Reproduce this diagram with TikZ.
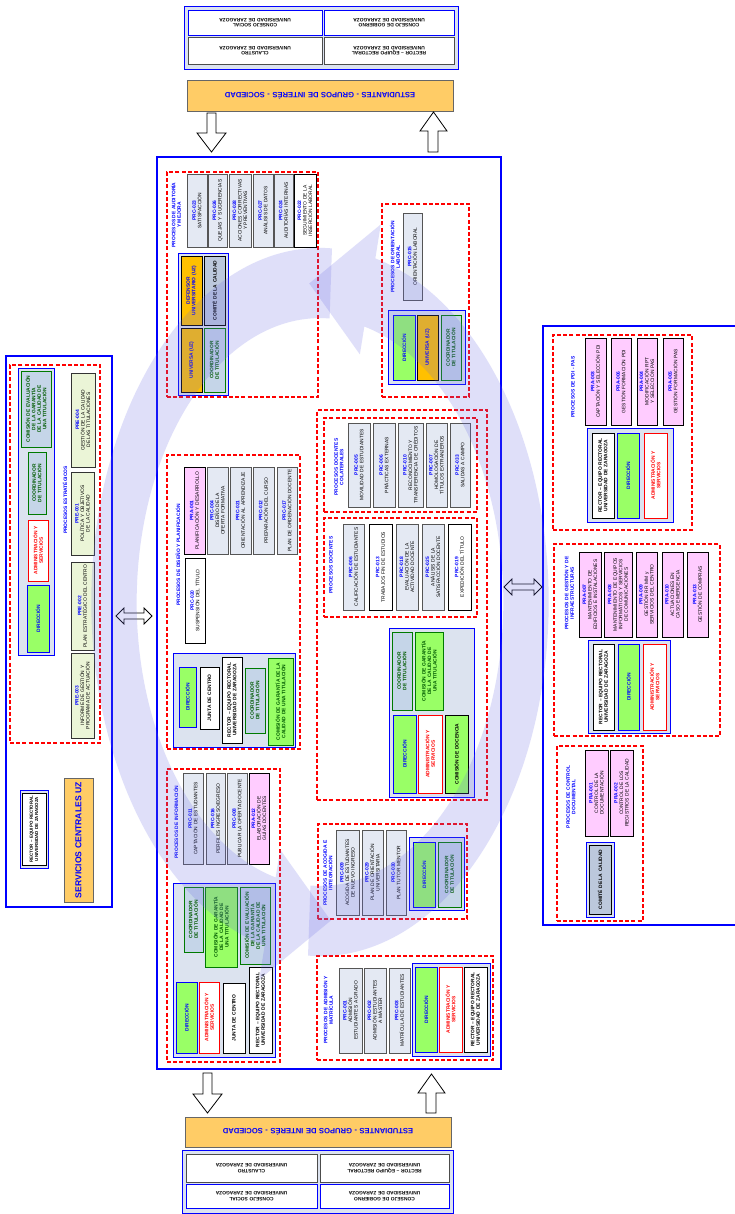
\documentclass[tikz,border=0pt]{standalone}
\usepackage{fontspec}
\setmainfont{Liberation Sans}
\usetikzlibrary{calc}
\hyphenpenalty=10000 \exhyphenpenalty=10000
\definecolor{grpfill}{HTML}{DCE3EF}
\definecolor{procfill}{HTML}{E4E9F3}
\definecolor{procdraw}{HTML}{555555}
\definecolor{pinkfill}{HTML}{FFCCFF}
\definecolor{dirfill}{HTML}{99FF66}
\definecolor{coordfill}{HTML}{C5D5E8}
\definecolor{dkgreen}{HTML}{007A00}
\definecolor{txgreen}{HTML}{005A00}
\definecolor{orgfill}{HTML}{FFC000}
\definecolor{barfill}{HTML}{FFCC66}
\definecolor{comitefill}{HTML}{BCC8DC}
\definecolor{prefill}{HTML}{EBF5D7}
\definecolor{codeblue}{HTML}{0000FF}
\definecolor{ringcol}{HTML}{6C6CE6}
\newcommand\fsz{\fontsize{4.9}{5.5}\selectfont}
\newcommand\fszb{\fontsize{4.9}{5.5}\selectfont\bfseries}
\tikzset{
  bxbase/.style={inner sep=0pt, align=center, font=\fsz},
  proc/.style={bxbase, draw=procdraw, fill=procfill, line width=0.8pt},
  procw/.style={bxbase, draw=black, fill=white, line width=0.8pt},
  pinkbox/.style={bxbase, draw=black, fill=pinkfill, line width=0.8pt},
  prebox/.style={bxbase, draw=black!80, fill=prefill, line width=0.8pt},
  dirbox/.style={bxbase, draw=blue, fill=dirfill, line width=1pt, text=blue, font=\fszb},
  admbox/.style={bxbase, draw=red, fill=white, line width=1pt, text=red, font=\fszb},
  coordbox/.style={bxbase, draw=dkgreen, fill=coordfill, line width=1pt, text=txgreen, font=\fszb},
  comgbox/.style={bxbase, draw=dkgreen, fill=dirfill, line width=1pt, text=txgreen, font=\fszb},
  comebox/.style={bxbase, draw=dkgreen, fill=coordfill, line width=1pt, text=txgreen, font=\fszb},
  orgbox/.style={bxbase, draw=black, fill=orgfill, line width=0.8pt, text=blue, font=\fszb},
  comitebox/.style={bxbase, draw=black, fill=comitefill, line width=0.8pt, font=\fszb},
  wbox/.style={bxbase, draw=black, fill=white, line width=0.8pt, font=\fszb},
  wboxs/.style={bxbase, draw=black, fill=white, line width=0.8pt, font=\fontsize{4.4}{5.2}\selectfont\bfseries},
  docbox/.style={bxbase, draw=black, fill=dirfill, line width=0.8pt, font=\fszb},
  wbb/.style={bxbase, draw=blue, fill=white, line width=0.8pt, font=\fontsize{4.9}{5.6}\selectfont\bfseries},
  wbg/.style={bxbase, draw=black!70, fill=white, line width=0.8pt, font=\fontsize{4.9}{5.6}\selectfont\bfseries},
  barbox/.style={bxbase, draw=black!60, fill=barfill, line width=0.8pt, text=blue, font=\fontsize{7.6}{8.6}\selectfont\bfseries},
  servbox/.style={bxbase, draw=black!60, fill=barfill, line width=0.8pt, text=blue, font=\fontsize{8.6}{9.6}\selectfont\bfseries},
  grp/.style={draw=blue, fill=grpfill, line width=0.8pt, inner sep=0pt},
  panel/.style={draw=blue, line width=1.2pt, inner sep=0pt},
  redbox/.style={draw=red, dash pattern=on 4pt off 2.2pt, line width=1.1pt, inner sep=0pt},
  lbl/.style={inner sep=0pt, align=center, text=blue, font=\fszb},
  blk/.style={draw=black, fill=white, line width=0.8pt},
  ring/.style={fill=ringcol, fill opacity=0.21}
}
% vertical box (text rotated 90)
\newcommand\bx[7]{%
  \pgfmathsetmacro\bxa{#6-#4}\pgfmathsetmacro\bxb{#5-#3}\pgfmathsetmacro\bxt{#6-#4-3}%
  \node[#1, rotate=90, minimum width=\bxa pt, minimum height=\bxb pt, text width=\bxt pt] (#2) at ({(#3+#5)/2},{(#4+#6)/2}) {#7};}
% process box with code
\newcommand\pc[8]{\bx{#1}{#2}{#3}{#4}{#5}{#6}{{\bfseries\color{codeblue}#7}\\#8}}
% upside-down box
\newcommand\bxu[7]{%
  \pgfmathsetmacro\bxa{#5-#3}\pgfmathsetmacro\bxb{#6-#4}\pgfmathsetmacro\bxt{#5-#3-4}%
  \node[#1, rotate=180, minimum width=\bxa pt, minimum height=\bxb pt, text width=\bxt pt] (#2) at ({(#3+#5)/2},{(#4+#6)/2}) {#7};}
% plain rectangle
\newcommand\rg[6]{%
  \pgfmathsetmacro\rga{#5-#3}\pgfmathsetmacro\rgb{#6-#4}%
  \node[#1, minimum width=\rga pt, minimum height=\rgb pt] (#2) at ({(#3+#5)/2},{(#4+#6)/2}) {};}
% rotated label
\newcommand\lb[5]{\node[lbl, rotate=90, text width=#4pt] (#1) at (#2,#3) {#5};}
\newcommand\rect{RECTOR -- EQUIPO RECTORAL UNIVERSIDAD DE ZARAGOZA}
\newcommand\adms{ADMINISTRACIÓN Y\\SERVICIOS}
\newcommand\comg{COMISIÓN DE GARANTÍA DE LA CALIDAD DE UNA TITULACIÓN}
\newcommand\come{COMISIÓN DE EVALUACIÓN DE LA GARANTÍA DE LA CALIDAD DE UNA TITULACIÓN}

\begin{document}
\begin{tikzpicture}[x=1pt,y=-1pt]
\useasboundingbox (0,0) rectangle (734,1214);
\fill[white] (0,0) rectangle (734,1214);

% ---------- top block ----------
\rg{grp}{topgrp}{184}{6}{458}{69}
\bxu{wbb}{tcs}{188}{10}{322}{35}{CONSEJO SOCIAL\\UNIVERSIDAD DE ZARAGOZA}
\bxu{wbb}{tcg}{324}{10}{454}{35}{CONSEJO DE GOBIERNO\\UNIVERSIDAD DE ZARAGOZA}
\bxu{wbg}{tcl}{188}{37}{322}{64}{CLAUSTRO\\UNIVERSIDAD DE ZARAGOZA}
\bxu{wbg}{tre}{324}{37}{454}{64}{RECTOR -- EQUIPO RECTORAL\\UNIVERSIDAD DE ZARAGOZA}
\bxu{barbox}{tbar}{187}{80}{453}{111}{ESTUDIANTES - GRUPOS DE INTERÉS - SOCIEDAD}
\draw[blk] (207,113) -- (216,113) -- (216,133) -- (226,133) -- (211.5,152) -- (197,133) -- (207,133) -- cycle;
\draw[blk] (433.5,112) -- (447,131) -- (438,131) -- (438,152) -- (428,152) -- (428,131) -- (420,131) -- cycle;

% ---------- bottom block ----------
\draw[blk] (203,1073) -- (212,1073) -- (212,1094) -- (222,1094) -- (207.5,1113) -- (193,1094) -- (203,1094) -- cycle;
\draw[blk] (431.5,1074) -- (445,1093) -- (436,1093) -- (436,1113) -- (426,1113) -- (426,1093) -- (418,1093) -- cycle;
\bxu{barbox}{bbar}{185}{1117}{451}{1147}{ESTUDIANTES - GRUPOS DE INTERÉS - SOCIEDAD}
\rg{grp}{botgrp}{182}{1150}{453}{1213}
\bxu{wbg}{bcl}{186}{1154}{317}{1182}{CLAUSTRO\\UNIVERSIDAD DE ZARAGOZA}
\bxu{wbg}{bre}{320}{1154}{449}{1182}{RECTOR -- EQUIPO RECTORAL\\UNIVERSIDAD DE ZARAGOZA}
\bxu{wbb}{bcs}{186}{1184}{317}{1208}{CONSEJO SOCIAL\\UNIVERSIDAD DE ZARAGOZA}
\bxu{wbb}{bcg}{320}{1184}{449}{1208}{CONSEJO DE GOBIERNO\\UNIVERSIDAD DE ZARAGOZA}

% ---------- panels ----------
\rg{panel}{mainp}{157}{157}{501}{1069}
\rg{panel}{leftp}{6}{356}{112}{907}
\rg{panel}{rightp}{543}{326}{760}{925}
\draw[blk] (116,616) -- (124,608) -- (124,613) -- (144,613) -- (144,608) -- (152,616) -- (144,624) -- (144,619) -- (124,619) -- (124,624) -- cycle;
\draw[blk] (504,587) -- (512,579) -- (512,584) -- (534,584) -- (534,579) -- (542,587) -- (534,595) -- (534,590) -- (512,590) -- (512,595) -- cycle;

% ---------- left panel ----------
\rg{redbox}{estr}{10}{365}{100}{743}
\rg{grp}{estrg}{18}{368}{54}{655}
\bx{comebox}{le1}{21}{371}{51}{447}{\come}
\bx{coordbox}{le2}{28}{452}{46}{514}{COORDINADOR DE TITULACIÓN}
\bx{admbox}{le3}{28}{520}{48}{581}{\adms}
\bx{dirbox}{le4}{27}{585}{49}{652}{DIRECCIÓN}
\lb{lestr}{65}{500}{90}{PROCESOS ESTRATÉGICOS}
\pc{prebox}{pre4}{71}{373}{95}{467}{PRE-004}{GESTIÓN DE LA CALIDAD DE LAS TITULACIONES}
\pc{prebox}{pre1}{71}{472}{94}{555}{PRE-001}{POLÍTICA Y OBJETIVOS DE LA CALIDAD}
\pc{prebox}{pre2}{71}{562}{94}{650}{PRE-002}{PLAN ESTRATÉGICO DEL CENTRO}
\pc{prebox}{pre3}{71}{653}{94}{738}{PRE-003}{INFORME DE GESTIÓN Y PROGRAMA DE ACTUACIÓN}
\rg{grp}{lrg}{20}{790}{48}{868}
\bx{wboxs}{lrect}{22}{793}{46}{865}{RECTOR -- EQUIPO RECTORAL\\UNIVERSIDAD DE ZARAGOZA}
\bx{servbox}{servc}{64}{778}{93}{902}{SERVICIOS CENTRALES UZ}

% ---------- auditoria ----------
\rg{redbox}{aud}{167}{172}{318}{397}
\lb{laud}{176}{215}{100}{PROCESOS DE AUDITORÍA\\Y MEJORA}
\pc{proc}{a1}{187}{174}{207}{247}{PRC-023}{SATISFACCIÓN}
\pc{proc}{a2}{208}{174}{227}{247}{PRC-026}{QUEJAS Y SUGERENCIAS}
\pc{proc}{a3}{229}{174}{251}{247}{PRC-028}{ACCIONES CORRECTIVAS Y PREVENTIVAS}
\pc{proc}{a4}{253}{174}{273}{247}{PRC-027}{ANÁLISIS DE DATOS}
\pc{proc}{a5}{274}{174}{293}{247}{PRC-024}{AUDITORÍAS INTERNAS}
\pc{procw}{a6}{294}{174}{316}{247}{PRC-022}{SEGUIMIENTO DE LA INSERCIÓN LABORAL}
\rg{grp}{audg}{178}{253}{228}{395}
\bx{orgbox}{ag1}{181}{256}{202}{325}{DEFENSOR UNIVERSITARIO (UZ)}
\bx{comitebox}{ag2}{204}{256}{225}{325}{COMITÉ DE LA CALIDAD}
\bx{orgbox}{ag3}{181}{328}{202}{392}{UNIVERSA (UZ)}
\bx{coordbox}{ag4}{204}{328}{225}{392}{COORDINADOR DE TITULACIÓN}

% ---------- orientacion ----------
\rg{redbox}{ori}{382}{204}{469}{397}
\lb{lori}{395}{257}{100}{PROCESOS DE ORIENTACIÓN\\LABORAL}
\pc{proc}{o1}{403}{213}{422}{300}{PRC-015}{ORIENTACIÓN LABORAL}
\rg{grp}{orig}{388}{310}{465}{384}
\bx{dirbox}{og1}{393}{315}{415}{380}{DIRECCIÓN}
\bx{orgbox}{og2}{417}{315}{438}{380}{UNIVERSA (UZ)}
\bx{coordbox}{og3}{441}{315}{461}{380}{COORDINADOR DE TITULACIÓN}

% ---------- diseno ----------
\rg{redbox}{dis}{167}{455}{300}{749}
\lb{ldis}{178}{555}{115}{PROCESOS DE DISEÑO Y PLANIFICACIÓN}
\pc{pinkbox}{d1}{184}{467}{205}{554}{PRA-001}{PLANIFICACIÓN Y DESARROLLO}
\pc{proc}{d2}{207}{467}{228}{554}{PRC-004}{DISEÑO DE LA OFERTA FORMATIVA}
\pc{proc}{d3}{230}{467}{251}{554}{PRC-021}{ORIENTACIÓN AL APRENDIZAJE}
\pc{proc}{d4}{253}{467}{274}{554}{PRC-012}{PREPARACIÓN DEL CURSO}
\pc{proc}{d5}{277}{467}{297}{554}{PRC-017}{PLAN DE ORDENACIÓN DOCENTE}
\pc{procw}{d6}{185}{558}{205}{643}{PRC-020}{SUSPENSIÓN DEL TÍTULO}
\rg{grp}{disg}{173}{653}{295}{747}
\bx{dirbox}{dg1}{179}{667}{196}{727}{DIRECCIÓN}
\bx{wbox}{dg2}{200}{667}{219}{729}{JUNTA DE CENTRO}
\bx{wbox}{dg3}{222}{657}{242}{743}{\rect}
\bx{coordbox}{dg4}{245}{668}{265}{733}{COORDINADOR DE TITULACIÓN}
\bx{comgbox}{dg5}{268}{658}{293}{745}{\comg}

% ---------- informacion ----------
\rg{redbox}{inf}{167}{769}{280}{1062}
\lb{linf}{176}{822}{90}{PROCESOS DE INFORMACIÓN}
\pc{proc}{i1}{183}{773}{203}{864}{PRC-011}{CAPTACIÓN DE ESTUDIANTES}
\pc{proc}{i2}{206}{773}{225}{864}{PRC-016}{PERFILES INGRESO/EGRESO}
\pc{proc}{i3}{227}{773}{247}{864}{PRC-008}{PUBLICAR LA OFERTA DOCENTE}
\pc{pinkbox}{i4}{249}{773}{269}{864}{PRA-012}{ELABORACIÓN DE GUÍAS DOCENTES}
\rg{grp}{infg}{173}{883}{275}{1057}
\bx{coordbox}{ig1}{184}{887}{203}{952}{COORDINADOR DE TITULACIÓN}
\bx{comgbox}{ig2}{205}{887}{237}{967}{\comg}
\bx{comebox}{ig3}{240}{887}{270}{964}{\come}
\bx{dirbox}{ig4}{176}{982}{197}{1053}{DIRECCIÓN}
\bx{admbox}{ig5}{199}{982}{219}{1053}{\adms}
\bx{wbox}{ig6}{223}{983}{245}{1053}{JUNTA DE CENTRO}
\bx{wbox}{ig7}{249}{967}{272}{1053}{\rect}

% ---------- docentes ----------
\rg{redbox}{doc}{317}{410}{487}{800}
\rg{redbox}{col}{324}{418}{477}{512}
\lb{lcol}{339}{467}{80}{PROCESOS DOCENTES\\COLATERALES}
\pc{proc}{c1}{348}{423}{370}{507}{PRC-005}{MOVILIDAD DE ESTUDIANTES}
\pc{proc}{c2}{373}{423}{395}{507}{PRC-006}{PRÁCTICAS EXTERNAS}
\pc{proc}{c3}{398}{423}{423}{507}{PRC-010}{RECONOCIMIENTO Y TRANSFERENCIA DE CRÉDITOS}
\pc{proc}{c4}{426}{423}{447}{507}{PRC-007}{HOMOLOGACIÓN DE TÍTULOS EXTRANJEROS}
\pc{proc}{c5}{450}{423}{470}{507}{PRC-033}{SALIDAS A CAMPO}
\rg{redbox}{dcn}{324}{518}{477}{617}
\lb{ldcn}{331}{565}{70}{PROCESOS DOCENTES}
\pc{proc}{n1}{343}{524}{364}{610}{PRC-006}{CALIFICACIÓN DE ESTUDIANTES}
\pc{procw}{n2}{369}{524}{392}{610}{PRC-013}{TRABAJOS FIN DE ESTUDIOS}
\pc{proc}{n3}{396}{524}{418}{610}{PRC-018}{EVALUACIÓN DE LA ACTIVIDAD DOCENTE}
\pc{proc}{n4}{422}{524}{444}{610}{PRC-025}{ANÁLISIS DE LA SATISFACCIÓN DOCENTE}
\pc{procw}{n5}{448}{524}{471}{610}{PRC-019}{EXPEDICIÓN DEL TÍTULO}
\rg{grp}{docg}{389}{628}{474}{797}
\bx{coordbox}{ng1}{392}{632}{412}{710}{COORDINADOR DE TITULACIÓN}
\bx{comgbox}{ng2}{415}{632}{443}{710}{\comg}
\bx{dirbox}{ng3}{393}{715}{416}{793}{DIRECCIÓN}
\bx{admbox}{ng4}{418}{715}{442}{793}{\adms}
\bx{docbox}{ng5}{445}{715}{468}{793}{COMISIÓN DE DOCENCIA}

% ---------- acogida ----------
\rg{redbox}{aco}{318}{824}{467}{919}
\lb{laco}{328}{873}{90}{PROCESOS DE ACOGIDA E\\INTEGRACIÓN}
\pc{proc}{k1}{336}{830}{359}{915}{PRC-009}{ACOGIDA DE ESTUDIANTES DE NUEVO INGRESO}
\pc{proc}{k2}{362}{830}{383}{915}{PRC-029}{PLAN DE ORIENTACIÓN UNIVERSITARIA}
\pc{proc}{k3}{386}{830}{406}{915}{PRC-030}{PLAN TUTOR MENTOR}
\rg{grp}{acog}{409}{837}{464}{910}
\bx{dirbox}{kg1}{413}{842}{435}{907}{DIRECCIÓN}
\bx{coordbox}{kg2}{438}{842}{461}{907}{COORDINADOR DE TITULACIÓN}

% ---------- admision ----------
\rg{redbox}{adm}{317}{956}{493}{1060}
\lb{ladm}{328}{1010}{90}{PROCESOS DE ADMISIÓN Y\\MATRÍCULA}
\pc{proc}{m1}{339}{968}{362}{1053}{PRC-001}{ADMISIÓN ESTUDIANTES A GRADO}
\pc{proc}{m2}{364}{968}{386}{1053}{PRC-002}{ADMISIÓN ESTUDIANTES A MÁSTER}
\pc{proc}{m3}{389}{968}{410}{1053}{PRC-003}{MATRÍCULA DE ESTUDIANTES}
\rg{grp}{admg}{412}{963}{490}{1056}
\bx{dirbox}{mg1}{415}{967}{437}{1052}{DIRECCIÓN}
\bx{admbox}{mg2}{439}{967}{462}{1052}{\adms}
\bx{wbox}{mg3}{464}{967}{487}{1052}{\rect}

% ---------- PDI PAS ----------
\rg{redbox}{pdi}{553}{335}{692}{530}
\lb{lpdi}{573}{387}{75}{PROCESOS DE PDI - PAS}
\pc{pinkbox}{p1}{585}{338}{606}{425}{PRA-003}{CAPTACIÓN Y SELECCIÓN PDI}
\pc{pinkbox}{p2}{611}{338}{631}{425}{PRA-006}{GESTIÓN FORMACIÓN PDI}
\pc{pinkbox}{p3}{637}{338}{657}{425}{PRA-004}{MODIFICACIÓN RPT Y SELECCIÓN PAS}
\pc{pinkbox}{p4}{663}{338}{683}{425}{PRA-005}{GESTIÓN FORMACIÓN PAS}
\rg{grp}{pdig}{587}{428}{673}{522}
\bx{wbox}{pg1}{592}{433}{614}{518}{\rect}
\bx{dirbox}{pg2}{617}{433}{639}{518}{DIRECCIÓN}
\bx{admbox}{pg3}{644}{433}{667}{518}{\adms}

% ---------- gestion infra ----------
\rg{redbox}{ges}{554}{544}{720}{736}
\lb{lges}{569}{593}{100}{PROCESOS DE GESTIÓN Y DE\\INFRAESTRUCTURAS}
\pc{pinkbox}{g1}{579}{552}{601}{637}{PRA-007}{MANTENIMIENTO DE EDIFICIOS E INSTALACIONES}
\pc{pinkbox}{g2}{604}{552}{632}{637}{PRA-008}{MANTENIMIENTO DE EQUIPOS INFORMÁTICOS Y SERVICIOS DE COMUNICACIONES}
\pc{pinkbox}{g3}{636}{552}{657}{637}{PRA-009}{GESTIÓN RR MM y SERVICIOS DEL CENTRO}
\pc{pinkbox}{g4}{662}{552}{683}{637}{PRA-010}{ACTUACIONES EN CASO EMERGENCIA}
\pc{pinkbox}{g5}{687}{552}{708}{637}{PRA-013}{GESTIÓN DE COMPRAS}
\rg{grp}{gesg}{588}{640}{670}{733}
\bx{wbox}{gg1}{593}{644}{614}{730}{\rect}
\bx{dirbox}{gg2}{618}{644}{639}{730}{DIRECCIÓN}
\bx{admbox}{gg3}{643}{644}{666}{730}{\adms}

% ---------- control documental ----------
\rg{redbox}{cdo}{557}{746}{643}{921}
\lb{lcdo}{571}{797}{90}{PROCESOS DE CONTROL\\DOCUMENTAL}
\pc{pinkbox}{q1}{585}{750}{608}{836}{PRA-001}{CONTROL DE LA DOCUMENTACIÓN}
\pc{pinkbox}{q2}{610}{750}{633}{836}{PRA-002}{CONTROL DE LOS REGISTROS DE LA CALIDAD}
\rg{grp}{cdog}{586}{842}{614}{917}
\bx{comitebox}{qg1}{589}{845}{611}{914}{COMITÉ DE LA CALIDAD}

% ---------- cycle ring (centre 320,602; radii 206 x 319) ----------
\fill[ring] ({320+228.7*cos(93)},{602+354.1*sin(93)}) arc[start angle=93, end angle=-76, x radius=228.7, y radius=354.1]
  -- ({320+251.3*cos(-76)},{602+389.2*sin(-76)})
  -- ({320+206*cos(-93)},{602+319*sin(-93)})
  -- ({320+164.8*cos(-76)},{602+255.2*sin(-76)})
  -- ({320+183.3*cos(-76)},{602+283.9*sin(-76)})
  arc[start angle=-76, end angle=93, x radius=183.3, y radius=283.9] -- cycle;
\fill[ring] ({320+228.7*cos(273)},{602+354.1*sin(273)}) arc[start angle=273, end angle=104, x radius=228.7, y radius=354.1]
  -- ({320+251.3*cos(104)},{602+389.2*sin(104)})
  -- ({320+206*cos(87)},{602+319*sin(87)})
  -- ({320+164.8*cos(104)},{602+255.2*sin(104)})
  -- ({320+183.3*cos(104)},{602+283.9*sin(104)})
  arc[start angle=104, end angle=273, x radius=183.3, y radius=283.9] -- cycle;
\end{tikzpicture}
\end{document}
